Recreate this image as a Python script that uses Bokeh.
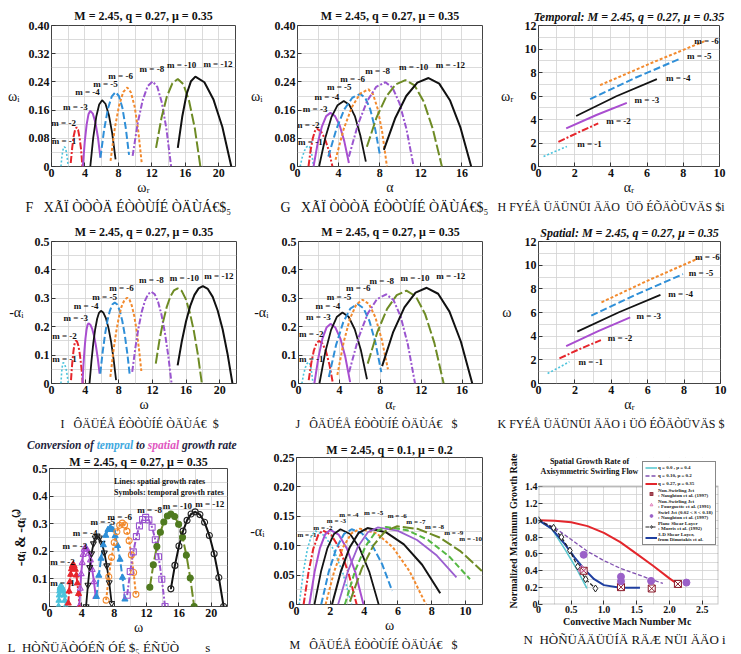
from bokeh.plotting import figure
from bokeh.layouts import column, row
from bokeh.models import (Range1d, FixedTicker, Label, Legend, LegendItem, Title,
                          BoxAnnotation, LinearAxis, Div)
from bokeh.embed import file_html
from bokeh.resources import INLINE

SERIF = "Liberation Serif"

# ------------------------------------------------------------------ data
M_MAIN = [-1, -2, -3, -4, -5, -6, -8, -10, -12]
M_LIN = [-1, -2, -3, -4, -5, -6]
M_H = [-1, -2, -3, -4, -5, -6, -7, -8, -9, -10]
M_MAIN_TEXT = ["m = %d" % m for m in M_MAIN]
M_LIN_TEXT = ["m = %d" % m for m in M_LIN]
M_H_TEXT = ["m = %d" % m for m in M_H]

# (a) temporal growth rate omega_i versus omega_r
A_OMEGA_R = [
    [1.13, 1.23, 1.33, 1.43, 1.53, 1.65, 1.77, 1.88, 2.0],
    [2.3, 2.48, 2.65, 2.83, 3.0, 3.18, 3.35, 3.53, 3.7],
    [3.75, 3.97, 4.2, 4.42, 4.64, 4.94, 5.25, 5.55, 5.85],
    [4.64, 4.99, 5.35, 5.7, 6.05, 6.45, 6.86, 7.26, 7.66],
    [5.85, 6.3, 6.76, 7.21, 7.66, 8.06, 8.47, 8.87, 9.27],
    [7.06, 7.56, 8.07, 8.57, 9.07, 9.5, 9.94, 10.37, 10.8],
    [9.7, 10.3, 10.9, 11.5, 12.1, 12.65, 13.2, 13.75, 14.3],
    [12.5, 13.15, 13.8, 14.45, 15.1, 15.78, 16.45, 17.13, 17.8],
    [15.1, 15.63, 16.15, 16.68, 17.2, 18.28, 19.35, 20.43, 21.5],
]
A_OMEGA_I = [
    [0.0, 0.025, 0.042, 0.053, 0.056, 0.053, 0.042, 0.025, 0.0],
    [0.01, 0.054, 0.086, 0.105, 0.111, 0.104, 0.083, 0.049, 0.0],
    [0.0, 0.069, 0.119, 0.148, 0.158, 0.150, 0.125, 0.083, 0.025],
    [0.0, 0.082, 0.141, 0.176, 0.188, 0.178, 0.146, 0.094, 0.02],
    [0.025, 0.106, 0.165, 0.199, 0.211, 0.2, 0.167, 0.111, 0.033],
    [0.016, 0.107, 0.172, 0.211, 0.224, 0.21, 0.17, 0.102, 0.007],
    [0.03, 0.122, 0.188, 0.228, 0.241, 0.226, 0.181, 0.105, 0.0],
    [0.053, 0.138, 0.199, 0.236, 0.248, 0.233, 0.186, 0.109, 0.0],
    [0.053, 0.141, 0.205, 0.242, 0.255, 0.239, 0.191, 0.112, 0.0],
]
# (b) temporal growth rate omega_i versus alpha
B_ALPHA = [
    [0.26, 0.46, 0.67, 0.87, 1.07, 1.19, 1.32, 1.44, 1.56],
    [1.07, 1.28, 1.49, 1.69, 1.9, 2.28, 2.65, 3.03, 3.4],
    [1.56, 1.97, 2.38, 2.79, 3.2, 3.65, 4.1, 4.55, 5.0],
    [2.1, 2.7, 3.3, 3.9, 4.5, 5.04, 5.58, 6.11, 6.65],
    [3.0, 3.78, 4.55, 5.33, 6.1, 6.59, 7.08, 7.56, 8.05],
    [3.7, 4.5, 5.3, 6.1, 6.9, 7.35, 7.8, 8.25, 8.7],
    [5.0, 5.89, 6.78, 7.66, 8.55, 9.24, 9.93, 10.61, 11.3],
    [6.75, 7.69, 8.63, 9.56, 10.5, 11.39, 12.28, 13.16, 14.05],
    [8.4, 9.49, 10.58, 11.66, 12.75, 13.79, 14.83, 15.86, 16.9],
]
B_OMEGA_I = [
    [0.0, 0.026, 0.044, 0.055, 0.059, 0.055, 0.044, 0.026, 0.0],
    [0.0, 0.047, 0.08, 0.1, 0.107, 0.1, 0.08, 0.047, 0.0],
    [0.0, 0.067, 0.114, 0.143, 0.152, 0.143, 0.117, 0.072, 0.01],
    [0.0, 0.081, 0.14, 0.174, 0.186, 0.175, 0.143, 0.089, 0.014],
    [0.028, 0.106, 0.162, 0.195, 0.206, 0.195, 0.162, 0.106, 0.028],
    [0.019, 0.107, 0.169, 0.207, 0.219, 0.205, 0.164, 0.096, 0.0],
    [0.028, 0.12, 0.186, 0.226, 0.239, 0.224, 0.179, 0.105, 0.0],
    [0.056, 0.139, 0.198, 0.233, 0.245, 0.23, 0.184, 0.107, 0.0],
    [0.047, 0.136, 0.2, 0.238, 0.251, 0.235, 0.188, 0.11, 0.0],
]
# (c) temporal: omega_r versus alpha_r
C_ALPHA_R = [
    [0.28, 0.9, 1.57], [1.1, 2.2, 3.3], [1.53, 3.2, 4.88],
    [2.08, 4.3, 6.54], [2.85, 5.35, 7.83], [3.4, 6.3, 9.2],
]
C_OMEGA_R = [
    [0.85, 1.27, 1.7], [2.1, 2.9, 3.67], [3.25, 4.38, 5.42],
    [4.3, 5.98, 7.43], [5.73, 7.55, 9.18], [6.92, 8.85, 10.68],
]
# (d) spatial growth rate -alpha_i versus omega
D_OMEGA = [
    [1.12, 1.17, 1.21, 1.26, 1.31, 1.35, 1.4, 1.5, 1.6, 1.7, 1.8, 1.9, 2.0],
    [2.32, 2.42, 2.52, 2.62, 2.72, 2.82, 2.92, 3.05, 3.19, 3.32, 3.45, 3.59, 3.72],
    [3.68, 3.8, 3.92, 4.04, 4.16, 4.28, 4.4, 4.62, 4.84, 5.06, 5.28, 5.5, 5.72],
    [4.52, 4.75, 4.97, 5.2, 5.43, 5.65, 5.88, 6.18, 6.48, 6.78, 7.08, 7.38, 7.68],
    [5.8, 6.09, 6.37, 6.66, 6.95, 7.23, 7.52, 7.82, 8.12, 8.42, 8.72, 9.02, 9.32],
    [7.0, 7.33, 7.67, 8.0, 8.33, 8.67, 9.0, 9.28, 9.56, 9.84, 10.12, 10.4, 10.68],
    [9.6, 9.98, 10.36, 10.74, 11.12, 11.5, 11.88, 12.28, 12.68, 13.08, 13.48, 13.88, 14.28],
    [12.4, 12.83, 13.27, 13.7, 14.13, 14.57, 15.0, 15.48, 15.96, 16.44, 16.92, 17.4, 17.88],
    [15.0, 15.5, 16.0, 16.5, 17.0, 17.5, 18.0, 18.59, 19.17, 19.76, 20.35, 20.93, 21.52],
]
D_ALPHA_I = [
    [0.0, 0.022, 0.041, 0.055, 0.065, 0.071, 0.073, 0.071, 0.065, 0.055, 0.041, 0.022, 0.0],
    [0.012, 0.055, 0.089, 0.116, 0.136, 0.147, 0.151, 0.147, 0.134, 0.113, 0.084, 0.046, 0.0],
    [0.0, 0.065, 0.118, 0.159, 0.188, 0.206, 0.212, 0.207, 0.192, 0.168, 0.133, 0.089, 0.035],
    [0.0, 0.078, 0.142, 0.192, 0.228, 0.249, 0.256, 0.249, 0.229, 0.195, 0.148, 0.087, 0.012],
    [0.035, 0.112, 0.174, 0.223, 0.257, 0.278, 0.285, 0.278, 0.256, 0.22, 0.17, 0.105, 0.026],
    [0.023, 0.108, 0.178, 0.232, 0.271, 0.294, 0.302, 0.295, 0.273, 0.238, 0.187, 0.123, 0.044],
    [0.041, 0.127, 0.198, 0.253, 0.292, 0.315, 0.323, 0.314, 0.287, 0.242, 0.18, 0.099, 0.0],
    [0.07, 0.151, 0.217, 0.269, 0.306, 0.328, 0.335, 0.326, 0.298, 0.251, 0.186, 0.103, 0.0],
    [0.064, 0.149, 0.219, 0.273, 0.312, 0.335, 0.343, 0.333, 0.305, 0.257, 0.191, 0.105, 0.0],
]
# (e) spatial growth rate -alpha_i versus alpha_r
E_ALPHA_R = [
    [0.33, 0.5, 0.67, 0.83, 1.0, 1.1, 1.21, 1.31, 1.42],
    [1.0, 1.25, 1.5, 1.75, 2.0, 2.34, 2.69, 3.03, 3.37],
    [1.55, 1.95, 2.34, 2.74, 3.13, 3.61, 4.09, 4.57, 5.05],
    [2.05, 2.61, 3.18, 3.74, 4.3, 4.9, 5.5, 6.1, 6.7],
    [2.97, 3.67, 4.38, 5.08, 5.78, 6.36, 6.94, 7.52, 8.1],
    [3.8, 4.42, 5.04, 5.65, 6.27, 6.89, 7.51, 8.13, 8.75],
    [4.95, 5.86, 6.77, 7.67, 8.58, 9.29, 9.99, 10.7, 11.4],
    [6.77, 7.72, 8.67, 9.61, 10.56, 11.47, 12.38, 13.29, 14.2],
    [8.18, 9.27, 10.36, 11.45, 12.54, 13.66, 14.77, 15.89, 17.0],
]
E_ALPHA_I = [
    [0.0, 0.033, 0.056, 0.07, 0.075, 0.07, 0.056, 0.033, 0.0],
    [0.012, 0.072, 0.116, 0.141, 0.15, 0.141, 0.113, 0.066, 0.0],
    [0.0, 0.092, 0.158, 0.197, 0.21, 0.197, 0.159, 0.095, 0.005],
    [0.0, 0.109, 0.188, 0.234, 0.25, 0.235, 0.191, 0.118, 0.015],
    [0.023, 0.135, 0.216, 0.264, 0.28, 0.265, 0.22, 0.145, 0.04],
    [0.03, 0.146, 0.229, 0.278, 0.295, 0.28, 0.234, 0.157, 0.05],
    [0.04, 0.16, 0.246, 0.297, 0.314, 0.294, 0.236, 0.137, 0.0],
    [0.07, 0.182, 0.263, 0.311, 0.327, 0.307, 0.245, 0.143, 0.0],
    [0.061, 0.182, 0.268, 0.32, 0.337, 0.316, 0.253, 0.147, 0.0],
]
# (f) spatial: omega versus alpha_r
F_ALPHA_R = [
    [0.5, 1.1, 1.7], [1.15, 2.29, 3.43], [1.52, 3.28, 5.04],
    [2.13, 4.42, 6.7], [2.9, 5.42, 7.94], [3.46, 6.15, 8.83],
]
F_OMEGA = [
    [0.85, 1.33, 1.84], [2.12, 2.93, 3.67], [3.16, 4.42, 5.59],
    [4.38, 6.02, 7.49], [5.73, 7.55, 9.24], [6.86, 8.8, 10.6],
]
# (g) conversion: lines = spatial rates, symbols = converted temporal rates
G_LINE_OMEGA = D_OMEGA
G_LINE_ALPHA_I = D_ALPHA_I
G_SYM_OMEGA = D_OMEGA
G_SYM_ALPHA_I = D_ALPHA_I
# (h) spatial growth rate, q = 0.1, mu = 0.2
H_OMEGA = [
    [0.16, 0.4, 0.64, 0.88, 1.12, 1.66, 2.19, 2.73, 3.26],
    [0.42, 0.71, 0.99, 1.28, 1.56, 2.06, 2.56, 3.06, 3.56],
    [0.76, 1.07, 1.38, 1.69, 2.0, 2.49, 2.98, 3.47, 3.96],
    [1.06, 1.45, 1.83, 2.22, 2.6, 3.17, 3.73, 4.3, 4.86],
    [1.46, 1.91, 2.36, 2.81, 3.26, 3.86, 4.46, 5.06, 5.66],
    [1.72, 2.23, 2.74, 3.25, 3.76, 4.74, 5.71, 6.69, 7.66],
    [2.1, 2.63, 3.15, 3.68, 4.2, 5.28, 6.35, 7.43, 8.5],
    [2.46, 3.05, 3.63, 4.22, 4.8, 5.97, 7.13, 8.3, 9.46],
    [2.86, 3.47, 4.08, 4.69, 5.3, 6.54, 7.78, 9.02, 10.26],
    [3.16, 3.86, 4.56, 5.26, 5.96, 7.21, 8.46, 9.71, 10.96],
]
H_ALPHA_I = [
    [0.0, 0.0547, 0.0938, 0.1172, 0.125, 0.1172, 0.0938, 0.0547, 0.0],
    [0.0, 0.0551, 0.0945, 0.1181, 0.126, 0.1181, 0.0945, 0.0551, 0.0],
    [0.0, 0.0556, 0.0953, 0.119, 0.127, 0.119, 0.0953, 0.0556, 0.0],
    [0.0, 0.056, 0.096, 0.12, 0.128, 0.12, 0.096, 0.056, 0.0],
    [0.0, 0.056, 0.096, 0.12, 0.128, 0.1214, 0.1018, 0.069, 0.023],
    [0.0, 0.0564, 0.0968, 0.121, 0.129, 0.121, 0.0968, 0.0564, 0.0],
    [0.0, 0.0569, 0.0975, 0.1219, 0.13, 0.123, 0.1023, 0.0676, 0.019],
    [0.0, 0.0573, 0.0983, 0.1228, 0.131, 0.1257, 0.1098, 0.0832, 0.046],
    [0.0, 0.0578, 0.099, 0.1238, 0.132, 0.1264, 0.1098, 0.082, 0.043],
    [0.005, 0.061, 0.101, 0.125, 0.133, 0.1283, 0.114, 0.0903, 0.057],
]
# (i) normalized maximum spatial growth rate versus convective Mach number
I_SWIRL027_MC = [0.0, 0.25, 0.5, 0.75, 1.0, 1.25, 1.5, 1.75, 2.0, 2.18]
I_SWIRL027_G = [1.0, 0.995, 0.975, 0.93, 0.85, 0.74, 0.6, 0.46, 0.31, 0.21]
I_SWIRL010_MC = [0.0, 0.25, 0.5, 0.75, 1.0, 1.25, 1.5, 1.75, 1.9]
I_SWIRL010_G = [1.0, 0.91, 0.77, 0.63, 0.52, 0.43, 0.36, 0.29, 0.25]
I_SWIRL000_MC = [0.0, 0.2, 0.4, 0.6, 0.74]
I_SWIRL000_G = [1.0, 0.9, 0.66, 0.4, 0.19]
I_DIMOTAKIS_MC = [0.0, 0.2, 0.4, 0.55, 0.7, 0.85, 1.0, 1.25, 1.55]
I_DIMOTAKIS_G = [1.0, 0.9, 0.72, 0.56, 0.42, 0.3, 0.23, 0.2, 0.2]
I_MORRIS_MC = [0.0, 0.23, 0.35, 0.48, 0.6, 0.72, 0.87]
I_MORRIS_G = [1.0, 0.91, 0.8, 0.64, 0.45, 0.3, 0.19]
I_NAUGHTON_MC = [0.69, 1.26, 1.73, 2.13]
I_NAUGHTON_G = [0.4, 0.206, 0.19, 0.244]
I_FOURGUETTE_MC = [0.66]
I_FOURGUETTE_G = [0.42]
I_SWIRLJET_MC = [0.69, 1.26, 1.26, 1.72, 2.26]
I_SWIRLJET_G = [0.59, 0.33, 0.275, 0.28, 0.26]

# tick labels
X22_TICKS = [0, 4, 8, 12, 16, 20]
X22_LABELS = ["0", "4", "8", "12", "16", "20"]
X18_TICKS = [0, 4, 8, 12, 16]
X18_LABELS = ["0", "4", "8", "12", "16"]
X10_TICKS = [0, 2, 4, 6, 8, 10]
X10_LABELS = ["0", "2", "4", "6", "8", "10"]
Y40_TICKS = [0, 0.08, 0.16, 0.24, 0.32, 0.40]
Y40_LABELS = ["0", "0.08", "0.16", "0.24", "0.32", "0.40"]
Y12_TICKS = [0, 2, 4, 6, 8, 10, 12]
Y12_LABELS = ["0", "2", "4", "6", "8", "10", "12"]
Y50_TICKS = [0, 0.1, 0.2, 0.3, 0.4, 0.5]
Y50_LABELS = ["0", "0.1", "0.2", "0.3", "0.4", "0.5"]
Y25_TICKS = [0, 0.05, 0.1, 0.15, 0.2, 0.25]
Y25_LABELS = ["0", "0.05", "0.10", "0.15", "0.20", "0.25"]
XI_TICKS = [0, 0.5, 1.0, 1.5, 2.0, 2.5]
XI_LABELS = ["0", "0.5", "1.0", "1.5", "2.0", "2.5"]
YI_TICKS = [0, 0.2, 0.4, 0.6, 0.8, 1.0, 1.2, 1.4]
YI_LABELS = ["0", "0.2", "0.4", "0.6", "0.8", "1.0", "1.2", "1.4"]

# grid (minor) positions
X22_MINOR = [2, 6, 10, 14, 18, 22]
X18_MINOR = [2, 6, 10, 14, 18]
X10_MINOR = [1, 3, 5, 7, 9]
Y40_MINOR = [0.04, 0.12, 0.2, 0.28, 0.36]
Y12_MINOR = [1, 3, 5, 7, 9, 11]
Y50_MINOR = [0.05, 0.15, 0.25, 0.35, 0.45]
Y25_MINOR = [0.025, 0.075, 0.125, 0.175, 0.225]
X11_MINOR = [1, 3, 5, 7, 9, 11]
XI_MINOR = [0.25, 0.75, 1.25, 1.75, 2.25, 2.75]
YI_MINOR = [0.1, 0.3, 0.5, 0.7, 0.9, 1.1, 1.3]

# label anchor positions (annotation placement)
A_LABEL_POS = [(1.5, 0.071), (1.45, 0.124), (2.86, 0.168), (4.3, 0.211), (6.45, 0.234),
               (8.27, 0.258), (12.0, 0.276), (15.56, 0.288), (19.9, 0.29)]
B_LABEL_POS = [(1.25, 0.07), (0.95, 0.119), (1.72, 0.163), (2.86, 0.197), (4.06, 0.225),
               (5.36, 0.247), (7.8, 0.27), (11.3, 0.281), (14.87, 0.288)]
C_LABEL_POS = [(2.82, 1.92), (4.42, 3.9), (5.99, 5.7), (7.72, 7.54), (8.88, 9.38), (9.28, 10.68)]
D_LABEL_POS = [(1.55, 0.087), (1.55, 0.169), (2.88, 0.23), (4.12, 0.273), (6.32, 0.306),
               (8.32, 0.337), (11.88, 0.363), (15.8, 0.372), (19.9, 0.38)]
E_LABEL_POS = [(1.25, 0.088), (1.25, 0.173), (1.95, 0.234), (2.87, 0.274), (3.96, 0.306),
               (5.84, 0.335), (8.15, 0.36), (11.4, 0.372), (14.9, 0.378)]
F_LABEL_POS = [(2.87, 1.84), (4.48, 3.81), (6.06, 5.73), (7.81, 7.57), (8.93, 9.32), (9.28, 10.68)]
G_LABEL_POS = [(1.6, 0.085), (1.6, 0.16), (3.14, 0.22), (4.4, 0.266), (6.58, 0.305),
               (8.68, 0.326), (12.37, 0.35), (15.8, 0.364), (19.8, 0.37)]
H_LABEL_POS = [(0.62, 0.119), (1.56, 0.13), (2.36, 0.142), (3.1, 0.152), (4.56, 0.156),
               (5.96, 0.151), (7.06, 0.14), (8.16, 0.131), (9.3, 0.122), (10.3, 0.112)]

TITLE_MAIN = "M = 2.45, q = 0.27, \u03bc = 0.35"
NB = "\u00a0"
CAPTIONS = [
    "F" + NB * 3 + "X\u00c3\u00cf" + NB + "\u00d2\u00d2\u00d2\u00c4" + NB
    + "\u00c9\u00d2\u00d2\u00d9\u00cd\u00c9" + NB + "\u00d2\u00c4\u00d9\u00c1\u20ac$\u2085",
    "G" + NB * 3 + "X\u00c3\u00cf" + NB + "\u00d2\u00d2\u00d2\u00c4" + NB
    + "\u00c9\u00d2\u00d2\u00d9\u00cd\u00c9" + NB + "\u00d2\u00c4\u00d9\u00c1\u20ac$\u2085",
    "H" + NB + "FY\u00c9\u00c5" + NB + "\u00dc\u00c4\u00dcN\u00dcI" + NB + "\u00c4\u00c4O"
    + NB * 2 + "\u00dc\u00d6" + NB + "\u00c9\u00d5\u00c4\u00d2\u00dcV\u00c4S" + NB + "$i",
    "I" + NB * 3 + "\u00d4\u00c4\u00dc\u00c9\u00c5" + NB + "\u00c9\u00d2\u00d2\u00d9\u00cd\u00c9"
    + NB + "\u00d2\u00c4\u00d9\u00c1\u20ac" + NB * 2 + "$",
    "J" + NB * 3 + "\u00d4\u00c4\u00dc\u00c9\u00c5" + NB + "\u00c9\u00d2\u00d2\u00d9\u00cd\u00c9"
    + NB + "\u00d2\u00c4\u00d9\u00c1\u20ac" + NB * 3 + "$",
    "K" + NB + "FY\u00c9\u00c5" + NB + "\u00dc\u00c4\u00dcN\u00dcI" + NB + "\u00c4\u00c4O"
    + NB + "i" + NB + "\u00dc\u00d6" + NB + "\u00c9\u00d5\u00c4\u00d2\u00dcV\u00c4S"
    + NB + "$",
    "L" + NB * 2 + "H\u00d2\u00d1\u00dc\u00c4\u00d2\u00d3\u00c9\u00d1" + NB + "\u00d3\u00c9"
    + NB + "$\u2085" + NB + "\u00c9\u00d1\u00dc\u00d2" + NB * 8 + "s",
    "M" + NB * 3 + "\u00d4\u00c4\u00dc\u00c9\u00c5" + NB + "\u00c9\u00d2\u00d2\u00d9\u00cd\u00c9"
    + NB + "\u00d2\u00c4\u00d9\u00c1\u20ac" + NB * 3 + "$",
    "N" + NB * 2 + "H\u00d2\u00d1\u00dc\u00c4\u00c4\u00dc\u00dc\u00cd\u00c4" + NB + "R\u00c4\u00c6"
    + NB + "N\u00dcI" + NB + "\u00c4\u00c4O" + NB + "i",
]
CAPTION_OFFSETS = [-26, -17, -41, 9, -3, -41, -42, -7, -15]
CAPTION_SIZES = ["14px", "14px", "12px", "12px", "12px", "12px", "13px", "12px", "13px"]

# ------------------------------------------------------------------ styles
STYLE = {
    -1: ("#4cc3dc", "2 2", 1.6),
    -2: ("#e6262c", "7 2 2 2", 2.0),
    -3: ("#a94ed0", "solid", 2.0),
    -4: ("#141414", "solid", 1.8),
    -5: ("#2f8fd8", "7 3", 2.0),
    -6: ("#f28a2e", "3 2", 2.0),
    -7: ("#141414", "solid", 2.0),
    -8: ("#9a55cf", "6 2 2 2", 2.0),
    -9: ("#55b843", "6 3", 2.0),
    -10: ("#6e8b25", "11 3", 2.0),
    -12: ("#111111", "solid", 2.0),
}
STYLE_H = dict(STYLE)
STYLE_H[-8] = ("#9b5fd0", "solid", 1.8)
SYMBOL = {
    -1: ("triangle", "#4cc3dc", "#4cc3dc"),
    -2: ("triangle", "#e6262c", "#e6262c"),
    -3: ("triangle", "#a94ed0", None),
    -4: ("inverted_triangle", "#222222", None),
    -5: ("triangle", "#2f8fd8", "#2f8fd8"),
    -6: ("circle", "#f28a2e", None),
    -8: ("square", "#9a55cf", None),
    -10: ("circle", "#4f7a1f", "#4f7a1f"),
    -12: ("circle_dot", "#222222", None),
}
HAS_ORIENT = "axis_label_orientation" in LinearAxis.properties()


def make_fig(width, height, xr, yr, border, title, title_style="bold", standoff=5):
    left, right, top, bottom = border
    p = figure(width=width, height=height, x_range=Range1d(*xr), y_range=Range1d(*yr),
               output_backend="svg", toolbar_location=None,
               min_border_left=left, min_border_right=right,
               min_border_top=top, min_border_bottom=bottom,
               background_fill_color="white", border_fill_color="white")
    p.outline_line_color = "#444444"
    p.outline_line_width = 1
    p.title.text = title
    p.title.align = "center"
    p.title.text_font = SERIF
    p.title.text_font_size = "12px"
    p.title.text_font_style = title_style
    p.title.text_color = "#111111"
    p.title.standoff = standoff
    p.grid.grid_line_color = "#d2d2d2"
    p.grid.minor_grid_line_color = "#d2d2d2"
    p.grid.grid_line_width = 0.8
    p.grid.minor_grid_line_width = 0.8
    p.axis.axis_line_color = None
    p.axis.major_tick_in = 4
    p.axis.major_tick_out = 0
    p.axis.minor_tick_in = 0
    p.axis.minor_tick_out = 0
    p.axis.major_tick_line_color = "#333333"
    p.axis.major_label_text_font = SERIF
    p.axis.major_label_text_font_style = "bold"
    p.axis.major_label_text_font_size = "12px"
    p.axis.major_label_text_color = "#111111"
    p.axis.major_label_standoff = 2
    p.axis.axis_label_text_font = SERIF
    p.axis.axis_label_text_font_style = "normal"
    p.axis.axis_label_text_font_size = "14px"
    p.axis.axis_label_text_color = "#111111"
    p.axis.axis_label_standoff = 0
    return p


def set_ticks(p, xt, xl, xm, yt, yl, ym):
    p.xaxis.ticker = FixedTicker(ticks=xt, minor_ticks=xm)
    p.yaxis.ticker = FixedTicker(ticks=yt, minor_ticks=ym)
    p.xaxis.major_label_overrides = {t: s for t, s in zip(xt, xl)}
    p.yaxis.major_label_overrides = {t: s for t, s in zip(yt, yl)}


def text(p, x, y, s, units="data", size="9px", style="bold", color="#111111",
         align="center", baseline="middle", angle=0.0, font=SERIF):
    p.add_layout(Label(x=x, y=y, x_units=units, y_units=units, text=s, text_font=font,
                       text_font_size=size, text_font_style=style, text_color=color,
                       text_align=align, text_baseline=baseline, angle=angle))


def curves(p, xs_list, ys_list, ms, styles):
    out = []
    for xs, ys, m in zip(xs_list, ys_list, ms):
        color, dash, width = styles[m]
        out.append(p.line(xs, ys, line_color=color, line_dash=dash, line_width=width))
    return out


def m_labels(p, texts, positions, size="9px"):
    for s, (x, y) in zip(texts, positions):
        text(p, x, y, s, size=size)


def caption(p, k):
    p.add_layout(Title(text=CAPTIONS[k], align="left", offset=CAPTION_OFFSETS[k],
                       text_font=SERIF, text_font_size=CAPTION_SIZES[k],
                       text_font_style="normal", text_color="#111111", standoff=0),
                 "below")


def ylab(p, s, standoff):
    p.yaxis.axis_label = s
    p.yaxis.axis_label_standoff = standoff
    if HAS_ORIENT:
        p.yaxis.axis_label_orientation = "horizontal"


# ------------------------------------------------------------------ (a)
pa = make_fig(247, 215, (0, 22), (0, 0.4), (51, 12, 23, 49), TITLE_MAIN)
set_ticks(pa, X22_TICKS, X22_LABELS, X22_MINOR, Y40_TICKS, Y40_LABELS, Y40_MINOR)
pa.xaxis.axis_label = "\u03c9\u1d63"
curves(pa, A_OMEGA_R, A_OMEGA_I, M_MAIN, STYLE)
m_labels(pa, M_MAIN_TEXT, A_LABEL_POS)
ylab(pa, "\u03c9\u1d62", 6)
caption(pa, 0)

# ------------------------------------------------------------------ (b)
pb = make_fig(247, 215, (0, 18), (0, 0.4), (50, 12, 23, 49), TITLE_MAIN)
set_ticks(pb, X18_TICKS, X18_LABELS, X18_MINOR, Y40_TICKS, Y40_LABELS, Y40_MINOR)
pb.xaxis.axis_label = "\u03b1"
curves(pb, B_ALPHA, B_OMEGA_I, M_MAIN, STYLE)
m_labels(pb, M_MAIN_TEXT, B_LABEL_POS)
ylab(pb, "\u03c9\u1d62", 9)
caption(pb, 1)

# ------------------------------------------------------------------ (c)
pc = make_fig(247, 215, (0, 10), (0, 12), (44, 22, 25, 48),
              "Temporal: " + TITLE_MAIN, title_style="bold italic", standoff=4)
set_ticks(pc, X10_TICKS, X10_LABELS, X10_MINOR, Y12_TICKS, Y12_LABELS, Y12_MINOR)
pc.xaxis.axis_label = "\u03b1\u1d63"
curves(pc, C_ALPHA_R, C_OMEGA_R, M_LIN, STYLE)
m_labels(pc, M_LIN_TEXT, C_LABEL_POS)
ylab(pc, "\u03c9\u1d63", 8)
caption(pc, 2)

# ------------------------------------------------------------------ (d)
pd_ = make_fig(247, 215, (0, 22), (0, 0.5), (51, 11, 24, 47), TITLE_MAIN)
set_ticks(pd_, X22_TICKS, X22_LABELS, X22_MINOR, Y50_TICKS, Y50_LABELS, Y50_MINOR)
pd_.xaxis.axis_label = "\u03c9"
curves(pd_, D_OMEGA, D_ALPHA_I, M_MAIN, STYLE)
m_labels(pd_, M_MAIN_TEXT, D_LABEL_POS)
ylab(pd_, "-\u03b1\u1d62", 8)
caption(pd_, 3)

# ------------------------------------------------------------------ (e)
pe = make_fig(247, 215, (0, 18), (0, 0.5), (51, 12, 24, 47), TITLE_MAIN)
set_ticks(pe, X18_TICKS, X18_LABELS, X18_MINOR, Y50_TICKS, Y50_LABELS, Y50_MINOR)
pe.xaxis.axis_label = "\u03b1\u1d63"
curves(pe, E_ALPHA_R, E_ALPHA_I, M_MAIN, STYLE)
m_labels(pe, M_MAIN_TEXT, E_LABEL_POS)
ylab(pe, "-\u03b1\u1d62", 10)
caption(pe, 4)

# ------------------------------------------------------------------ (f)
pf = make_fig(247, 215, (0, 10), (0, 12), (44, 21, 26, 45),
              "Spatial: " + TITLE_MAIN, title_style="bold italic", standoff=4)
set_ticks(pf, X10_TICKS, X10_LABELS, X10_MINOR, Y12_TICKS, Y12_LABELS, Y12_MINOR)
pf.xaxis.axis_label = "\u03b1\u1d63"
curves(pf, F_ALPHA_R, F_OMEGA, M_LIN, STYLE)
m_labels(pf, M_LIN_TEXT, F_LABEL_POS)
ylab(pf, "\u03c9", 10)
caption(pf, 5)

# ------------------------------------------------------------------ (g)
hg = Div(text=(
    '<div style="font-family:\'Liberation Serif\',serif;font-weight:bold;'
    'font-style:italic;font-size:11.5px;line-height:13px;white-space:nowrap;'
    'padding:9px 0 0 27px;margin:0;color:#1e1e3c">Conversion of '
    '<span style="color:#3fa9e0">tempral</span> to '
    '<span style="color:#e055c0">spatial</span> growth rate</div>'),
    width=247, height=22, margin=(0, 0, 0, 0))

pg = make_fig(247, 202, (0, 22), (0, 0.5), (49, 20, 13, 48), TITLE_MAIN, standoff=0)
set_ticks(pg, X22_TICKS, X22_LABELS, X22_MINOR, Y50_TICKS, Y50_LABELS, Y50_MINOR)
pg.xaxis.axis_label = "\u03c9"
pg.add_layout(Title(text="-\u03b1\u1d62 & -\u03b1\u1d62\u207d\u02e2\u207e", align="center",
                    offset=15, text_font=SERIF, text_font_size="14px",
                    text_font_style="bold", text_color="#111111", standoff=4), "left")
curves(pg, G_LINE_OMEGA, G_LINE_ALPHA_I, M_MAIN, STYLE)
for xs, ys, m in zip(G_SYM_OMEGA, G_SYM_ALPHA_I, M_MAIN):
    mk, lc, fc = SYMBOL[m]
    pg.scatter(xs, ys, marker=mk, size=6, line_color=lc, fill_color=fc, line_width=1.1)
m_labels(pg, M_MAIN_TEXT, G_LABEL_POS)
text(pg, 7.97, 0.452, "Lines: spatial growth rates", size="8px", align="left")
text(pg, 7.97, 0.412, "Symbols: temporal growth rates", size="8px", align="left")
caption(pg, 6)

# ------------------------------------------------------------------ (h)
ph = make_fig(247, 224, (0, 11), (0, 0.25), (48, 12, 25, 50),
              "M = 2.45, q = 0.1, \u03bc = 0.2", standoff=2)
set_ticks(ph, X10_TICKS, X10_LABELS, X11_MINOR, Y25_TICKS, Y25_LABELS, Y25_MINOR)
ph.xaxis.axis_label = "\u03c9"
curves(ph, H_OMEGA, H_ALPHA_I, M_H, STYLE_H)
m_labels(ph, M_H_TEXT, H_LABEL_POS, size="7px")
ylab(ph, "-\u03b1\u1d62", 6)
caption(ph, 7)

# ------------------------------------------------------------------ (i)
# frame extended upward so that the title block and legend (which stand above
# the 1.4 level in the original) are drawn inside the frame; area above 1.4 is masked.
pi = make_fig(247, 224, (0, 2.75), (0, 1.744), (44, 23, 27, 45), "")
set_ticks(pi, XI_TICKS, XI_LABELS, XI_MINOR, YI_TICKS, YI_LABELS, YI_MINOR)
pi.outline_line_color = None
pi.axis.major_label_text_font_size = "10px"
pi.axis.major_label_standoff = 1
pi.xaxis.axis_label = "Convective Mach Number  Mc"
pi.xaxis.axis_label_text_font_style = "bold"
pi.xaxis.axis_label_text_font_size = "10px"
pi.add_layout(Title(text="Normalized Maximum Growth Rate", align="center", offset=-14,
                    text_font=SERIF, text_font_size="10px", text_font_style="bold",
                    text_color="#111111", standoff=6), "left")
r_cyan = pi.line(I_SWIRL000_MC, I_SWIRL000_G, line_color="#5cc8d0", line_width=1.6)
r_purp = pi.line(I_SWIRL010_MC, I_SWIRL010_G, line_color="#8050b0", line_width=1.3,
                 line_dash="4 2")
r_red = pi.line(I_SWIRL027_MC, I_SWIRL027_G, line_color="#e3262c", line_width=2)
r_blue = pi.line(I_DIMOTAKIS_MC, I_DIMOTAKIS_G, line_color="#1f3fa0", line_width=2)
r_mor_l = pi.line(I_MORRIS_MC, I_MORRIS_G, line_color="#222222", line_width=1.2,
                  line_dash="4 2")
r_mor_s = pi.scatter(I_MORRIS_MC, I_MORRIS_G, marker="diamond", size=7,
                     line_color="#222222", fill_color="white")
r_sq = pi.scatter(I_NAUGHTON_MC, I_NAUGHTON_G, marker="square_x", size=7,
                  line_color="#8b1a2a", fill_color="white")
r_tri = pi.scatter(I_FOURGUETTE_MC, I_FOURGUETTE_G, marker="triangle", size=7,
                   line_color="#e07ab8", fill_color=None)
r_dot = pi.scatter(I_SWIRLJET_MC, I_SWIRLJET_G, marker="circle", size=7,
                   line_color="#9a60c8", fill_color="#9a60c8")
pi.add_layout(BoxAnnotation(bottom=1.4, fill_color="white", fill_alpha=1.0, line_alpha=0))
pi.add_layout(BoxAnnotation(top=1.4, fill_alpha=0.0, line_color="#444444", line_width=2))
text(pi, 51, 143, "Spatial Growth Rate of", units="screen", size="8px")
text(pi, 51, 133, "Axisymmetric Swirling Flow", units="screen", size="8px")
legend = Legend(items=[
    LegendItem(label="q = 0.0 , \u03bc = 0.4", renderers=[r_cyan]),
    LegendItem(label="q = 0.10, \u03bc = 0.2", renderers=[r_purp]),
    LegendItem(label="q = 0.27, \u03bc = 0.35", renderers=[r_red]),
    LegendItem(label="Non-Swirling Jet\n: Naughton et al. (1997)", renderers=[r_sq]),
    LegendItem(label="Non-Swirling Jet\n: Fourguette et al. (1991)", renderers=[r_tri]),
    LegendItem(label="Swirl Jet (0.02 < S < 0.18)\n: Naughton et al. (1997)",
               renderers=[r_dot]),
    LegendItem(label="Plane Shear Layer\n: Morris et al. (1992)",
               renderers=[r_mor_l, r_mor_s]),
    LegendItem(label="3-D Shear Layer,\nfrom Dimotakis et al.", renderers=[r_blue]),
], location=(104, 59))
legend.label_text_font = SERIF
legend.label_text_font_size = "5px"
legend.label_text_font_style = "bold"
legend.label_text_color = "#222222"
legend.label_height = 6
legend.glyph_height = 7
legend.glyph_width = 12
legend.label_standoff = 1
legend.spacing = 1
legend.padding = 2
legend.margin = 0
legend.border_line_color = "#111111"
legend.border_line_width = 1
legend.background_fill_alpha = 1
pi.add_layout(legend)
caption(pi, 8)

layout = column(row(pa, pb, pc), row(pd_, pe, pf),
                row(column(hg, pg), ph, pi))
open("out.html", "w").write(file_html(layout, INLINE))
